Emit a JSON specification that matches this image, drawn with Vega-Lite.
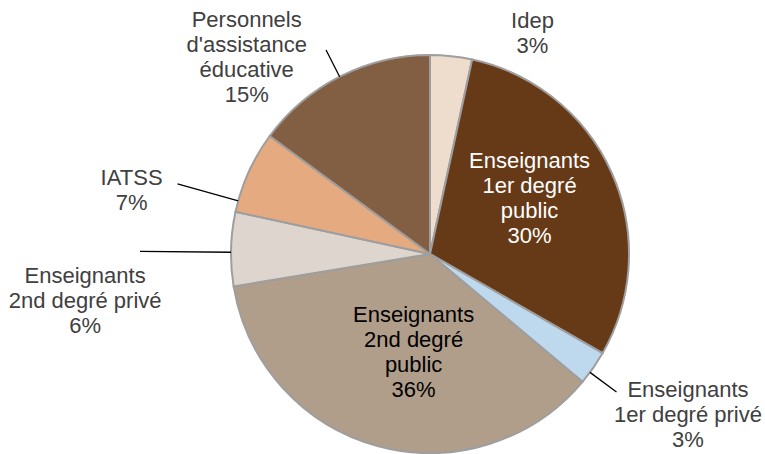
{
  "$schema": "https://vega.github.io/schema/vega-lite/v6.json",
  "width": 670,
  "height": 400,
  "autosize": {"type": "none"},
  "padding": {"left": 95, "top": 54, "right": 0, "bottom": 0},
  "background": "white",
  "config": {"view": {"stroke": null}},
  "data": {
    "values": [
      {"cat": "Idep", "value": 3.4, "ord": 1, "label": ["Idep", "3%"]},
      {"cat": "Enseignants 1er degré public", "value": 29.9, "ord": 2, "label": ["Enseignants", "1er degré", "public", "30%"]},
      {"cat": "Enseignants 1er degré privé", "value": 2.8, "ord": 3, "label": ["Enseignants", "1er degré privé", "3%"]},
      {"cat": "Enseignants 2nd degré public", "value": 36.3, "ord": 4, "label": ["Enseignants", "2nd degré", "public", "36%"]},
      {"cat": "Enseignants 2nd degré privé", "value": 6.0, "ord": 5, "label": ["Enseignants", "2nd degré privé", "6%"]},
      {"cat": "IATSS", "value": 6.7, "ord": 6, "label": ["IATSS", "7%"]},
      {"cat": "Personnels d'assistance éducative", "value": 14.9, "ord": 7, "label": ["Personnels", "d'assistance", "éducative", "15%"]}
    ]
  },
  "encoding": {
    "theta": {"field": "value", "type": "quantitative", "stack": true},
    "order": {"field": "ord", "type": "quantitative"}
  },
  "layer": [
    {
      "mark": {"type": "arc", "radius": 199, "stroke": "#9E9E9E", "strokeWidth": 2},
      "encoding": {
        "color": {
          "field": "cat",
          "type": "nominal",
          "scale": {
            "domain": ["Idep", "Enseignants 1er degré public", "Enseignants 1er degré privé", "Enseignants 2nd degré public", "Enseignants 2nd degré privé", "IATSS", "Personnels d'assistance éducative"],
            "range": ["#EEDCCD", "#673A17", "#BED8EE", "#B09E8A", "#DED6CE", "#E5AA7F", "#825F42"]
          },
          "legend": null
        }
      }
    },
    {
      "transform": [{"stack": "value", "sortby": [{"field": "ord"}], "groupby": [], "as": ["v0", "v1"]}, {"filter": "datum.cat === 'Enseignants 1er degré privé'"}],
      "mark": {"type": "arc", "radius": 232, "radius2": 199, "thetaOffset": 0.1155, "theta2Offset": 0.1155, "fill": "transparent", "stroke": "black", "strokeWidth": 1.3},
      "encoding": {"theta": {"field": "v0", "type": "quantitative", "stack": false}, "theta2": {"field": "v0"}}
    },
    {
      "transform": [{"stack": "value", "sortby": [{"field": "ord"}], "groupby": [], "as": ["v0", "v1"]}, {"filter": "datum.cat === 'Enseignants 2nd degré privé'"}],
      "mark": {"type": "arc", "radius": 290, "radius2": 199, "thetaOffset": 0.1721, "theta2Offset": 0.1721, "fill": "transparent", "stroke": "black", "strokeWidth": 1.3},
      "encoding": {"theta": {"field": "v0", "type": "quantitative", "stack": false}, "theta2": {"field": "v0"}}
    },
    {
      "transform": [{"stack": "value", "sortby": [{"field": "ord"}], "groupby": [], "as": ["v0", "v1"]}, {"filter": "datum.cat === 'IATSS'"}],
      "mark": {"type": "arc", "radius": 262, "radius2": 199, "thetaOffset": 0.0569, "theta2Offset": 0.0569, "fill": "transparent", "stroke": "black", "strokeWidth": 1.3},
      "encoding": {"theta": {"field": "v0", "type": "quantitative", "stack": false}, "theta2": {"field": "v0"}}
    },
    {
      "transform": [{"stack": "value", "sortby": [{"field": "ord"}], "groupby": [], "as": ["v0", "v1"]}, {"filter": "datum.cat === \"Personnels d'assistance éducative\""}],
      "mark": {"type": "arc", "radius": 229, "radius2": 199, "thetaOffset": 0.465, "theta2Offset": 0.465, "fill": "transparent", "stroke": "black", "strokeWidth": 1.3},
      "encoding": {"theta": {"field": "v0", "type": "quantitative", "stack": false}, "theta2": {"field": "v0"}}
    },
    {
      "mark": {"type": "text", "radius": 220, "dx": 79, "dy": -14, "font": "Liberation Sans", "fontSize": 22, "lineHeight": 25, "fill": "#404040", "align": "center", "baseline": "middle"},
      "encoding": {"text": {"condition": {"test": "datum.cat === 'Idep'", "field": "label"}, "value": ""}}
    },
    {
      "mark": {"type": "text", "radius": 110, "dx": -1, "dy": -48, "font": "Liberation Sans", "fontSize": 22, "lineHeight": 25, "fill": "white", "align": "center", "baseline": "middle"},
      "encoding": {"text": {"condition": {"test": "datum.cat === 'Enseignants 1er degré public'", "field": "label"}, "value": ""}}
    },
    {
      "mark": {"type": "text", "radius": 300, "dx": 12, "dy": -36, "font": "Liberation Sans", "fontSize": 22, "lineHeight": 25, "fill": "#404040", "align": "center", "baseline": "middle"},
      "encoding": {"text": {"condition": {"test": "datum.cat === 'Enseignants 1er degré privé'", "field": "label"}, "value": ""}}
    },
    {
      "mark": {"type": "text", "radius": 100, "dx": 10, "dy": -35, "font": "Liberation Sans", "fontSize": 22, "lineHeight": 25, "fill": "black", "align": "center", "baseline": "middle"},
      "encoding": {"text": {"condition": {"test": "datum.cat === 'Enseignants 2nd degré public'", "field": "label"}, "value": ""}}
    },
    {
      "mark": {"type": "text", "radius": 345, "dx": 0, "dy": 31, "font": "Liberation Sans", "fontSize": 22, "lineHeight": 25, "fill": "#404040", "align": "center", "baseline": "middle"},
      "encoding": {"text": {"condition": {"test": "datum.cat === 'Enseignants 2nd degré privé'", "field": "label"}, "value": ""}}
    },
    {
      "mark": {"type": "text", "radius": 300, "dx": -25, "dy": 47, "font": "Liberation Sans", "fontSize": 22, "lineHeight": 25, "fill": "#404040", "align": "center", "baseline": "middle"},
      "encoding": {"text": {"condition": {"test": "datum.cat === 'IATSS'", "field": "label"}, "value": ""}}
    },
    {
      "mark": {"type": "text", "radius": 240, "dx": -75, "dy": -20, "font": "Liberation Sans", "fontSize": 22, "lineHeight": 25, "fill": "#404040", "align": "center", "baseline": "middle"},
      "encoding": {"text": {"condition": {"test": "datum.cat === \"Personnels d'assistance éducative\"", "field": "label"}, "value": ""}}
    }
  ]
}
